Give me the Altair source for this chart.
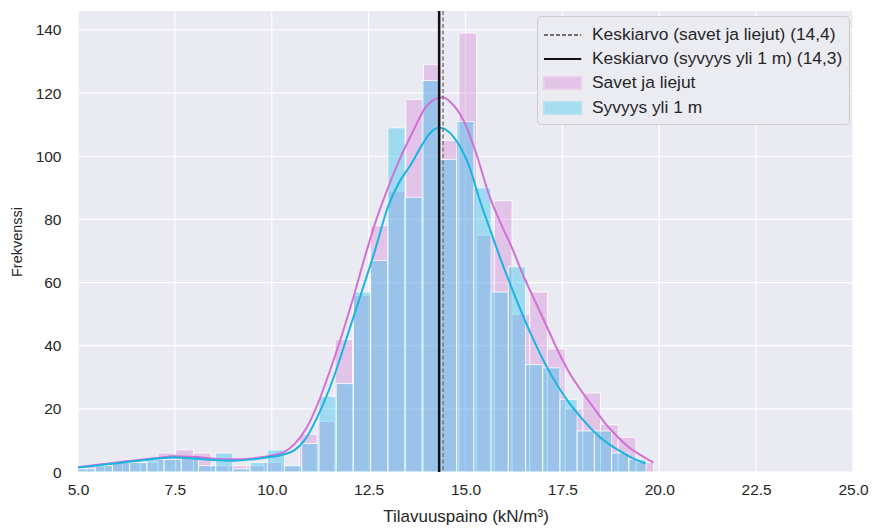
import altair as alt
import pandas as pd

# ---------------- data ----------------
# Histogram "Syvyys yli 1 m" (blue)
BLUE_START = 5.0
BLUE_WIDTH = 0.4442
BLUE_COUNTS = [1, 2, 3, 3, 4, 4, 5, 2, 6, 1, 3, 7, 2, 9, 24, 28, 57, 67, 109, 87,
               124, 99, 111, 90, 57, 65, 34, 33, 23, 13, 13, 6, 4]
# Histogram "Savet ja liejut" (pink)
PINK_START = 4.78
PINK_WIDTH = 0.4568
PINK_COUNTS = [1, 2, 3, 4, 3, 6, 7, 6, 2, 2, 2, 3, 2, 12, 16, 42, 56, 78, 89, 118,
               129, 105, 139, 75, 86, 50, 57, 39, 20, 25, 15, 11, 3]

# KDE curves
PINK_KDE_X = [5.0, 5.5, 6.0, 6.5, 7.0, 7.5, 8.0, 8.5, 9.0, 9.5, 10.0, 10.3, 10.6, 10.9,
              11.2, 11.5, 11.8, 12.1, 12.4, 12.7, 13.0, 13.3, 13.65, 14.0, 14.4, 14.7,
              15.0, 15.3, 15.6, 15.9, 16.2, 16.5, 16.8, 17.1, 17.4, 17.7, 18.0, 18.3,
              18.6, 18.9, 19.2, 19.5, 19.85]
PINK_KDE_Y = [1.5, 2.3, 3.0, 3.7, 4.4, 5.0, 4.8, 4.2, 4.0, 4.3, 5.2, 6.2, 9, 14, 22, 32,
              43, 55, 68, 80, 90, 99, 108, 116, 118.7, 116, 110, 100, 88, 79, 71, 62,
              54, 46, 38, 31, 25.5, 20.5, 15.5, 11.5, 8, 5.5, 3]
BLUE_KDE_X = [5.0, 5.5, 6.0, 6.5, 7.0, 7.5, 8.0, 8.5, 9.0, 9.5, 10.0, 10.3, 10.6, 10.9,
              11.2, 11.6, 12.0, 12.32, 12.66, 13.0, 13.3, 13.57, 13.9, 14.1, 14.33,
              14.7, 15.12, 15.37, 15.6, 15.89, 16.3, 16.75, 17.2, 17.61, 18.0, 18.47,
              19.0, 19.3, 19.65]
BLUE_KDE_Y = [1.4, 2.1, 2.8, 3.5, 4.2, 4.6, 4.3, 3.8, 3.6, 4.0, 4.8, 5.5, 7, 11, 18, 30,
              45, 57, 70, 84, 92, 97, 104, 107.5, 109, 106, 96, 86, 78, 68, 55, 42, 31,
              23, 17, 11, 6.5, 4.5, 2.7]

# Means
PINK_MEAN = 14.42
BLUE_MEAN = 14.32

LABELS = ["Keskiarvo (savet ja liejut) (14,4)", "Keskiarvo (syvyys yli 1 m) (14,3)",
          "Savet ja liejut", "Syvyys yli 1 m"]

X_TICKS = [5.0, 7.5, 10.0, 12.5, 15.0, 17.5, 20.0, 22.5, 25.0]
Y_TICKS = [0, 20, 40, 60, 80, 100, 120, 140]

# ---------------- styling ----------------
FONT = "Liberation Sans"
BG = "#EAEAF2"
TXT = "#262626"
PINK = "#D68BD9"
BLUE = "#31C2ED"
PINK_LINE = "#D171D4"
BLUE_LINE = "#1AB4E3"

X_TITLE = "Tilavuuspaino (kN/m³)"
Y_TITLE = "Frekvenssi"


def hist_frame(start, width, counts):
    return pd.DataFrame({
        "x0": [start + i * width for i in range(len(counts))],
        "x1": [start + (i + 1) * width for i in range(len(counts))],
        "count": counts,
    })


pink_df = hist_frame(PINK_START, PINK_WIDTH, PINK_COUNTS)
blue_df = hist_frame(BLUE_START, BLUE_WIDTH, BLUE_COUNTS)
pink_kde = pd.DataFrame({"x": PINK_KDE_X, "y": PINK_KDE_Y})
blue_kde = pd.DataFrame({"x": BLUE_KDE_X, "y": BLUE_KDE_Y})
legend_df = pd.DataFrame({"lab": LABELS})
xgrid_df = pd.DataFrame({"x": X_TICKS})
ygrid_df = pd.DataFrame({"y": Y_TICKS})

xscale = alt.Scale(domain=[5, 25], nice=False, zero=False)
yscale = alt.Scale(domain=[0, 146], nice=False)

xaxis = alt.Axis(values=X_TICKS, format=".1f", labelPadding=10, titlePadding=11,
                 labelFlush=False, labelFontSize=15.5, titleFontSize=17)
yaxis = alt.Axis(values=Y_TICKS, labelPadding=17, titlePadding=11,
                 labelFontSize=15.5, titleFontSize=14.5)


def X(field):
    return alt.X(field, scale=xscale, axis=xaxis, title=X_TITLE)


def Y(field):
    return alt.Y(field, scale=yscale, axis=yaxis, title=Y_TITLE)


# plot-area background and white grid (seaborn "darkgrid")
background = alt.Chart(legend_df.head(1)).mark_rect(color=BG).encode(
    x=alt.value(0), x2=alt.value("width"), y=alt.value(0), y2=alt.value("height")
)
xgrid = alt.Chart(xgrid_df).mark_rule(color="white", strokeWidth=1.2).encode(x=X("x:Q"))
ygrid = alt.Chart(ygrid_df).mark_rule(color="white", strokeWidth=1.2).encode(y=Y("y:Q"))

pink_bars = alt.Chart(pink_df).mark_rect(
    fill=PINK, fillOpacity=0.4, stroke="white", strokeWidth=1, strokeOpacity=0.8, clip=True
).encode(x=X("x0:Q"), x2="x1:Q", y=Y("count:Q"), y2=alt.datum(0))

blue_bars = alt.Chart(blue_df).mark_rect(
    fill=BLUE, fillOpacity=0.4, stroke="white", strokeWidth=1, strokeOpacity=0.8, clip=True
).encode(x=X("x0:Q"), x2="x1:Q", y=Y("count:Q"), y2=alt.datum(0))

pink_line = alt.Chart(pink_kde).mark_line(
    color=PINK_LINE, strokeWidth=2, interpolate="monotone", clip=True
).encode(x=X("x:Q"), y=Y("y:Q"))

blue_line = alt.Chart(blue_kde).mark_line(
    color=BLUE_LINE, strokeWidth=2, interpolate="monotone", clip=True
).encode(x=X("x:Q"), y=Y("y:Q"))

pink_mean = alt.Chart(pd.DataFrame({"x": [PINK_MEAN]})).mark_rule(
    color="#6F6F6F", strokeWidth=1.4, strokeDash=[4, 2.5]
).encode(x=X("x:Q"))

blue_mean = alt.Chart(pd.DataFrame({"x": [BLUE_MEAN]})).mark_rule(
    color="#111111", strokeWidth=2.5
).encode(x=X("x:Q"))

LINE_PATH = "M-1,0L2.1,0"
RECT_PATH = "M-1,-0.5L2.1,-0.5L2.1,0.5L-1,0.5Z"

leg = alt.Legend(
    title=None, orient="none", legendX=459, legendY=5,
    symbolSize=576, symbolStrokeWidth=2, symbolOpacity=1,
    labelFont=FONT, labelFontSize=17.4, labelColor=TXT, labelOffset=23, labelLimit=400,
    fillColor="#EBEBF2", strokeColor="#CCCCCC", cornerRadius=4, padding=6, rowPadding=2,
)

legend_layer = alt.Chart(legend_df).mark_point(filled=True, opacity=0, strokeWidth=2).encode(
    fill=alt.Fill("lab:N", legend=leg, scale=alt.Scale(
        domain=LABELS, range=["transparent", "transparent", "#E3C4E8", "#A6DCF0"])),
    stroke=alt.Stroke("lab:N", legend=leg, scale=alt.Scale(
        domain=LABELS, range=["#6F6F6F", "#111111", "#E9CFEC", "#B6E2F2"])),
    shape=alt.Shape("lab:N", legend=leg, scale=alt.Scale(
        domain=LABELS, range=[LINE_PATH, LINE_PATH, RECT_PATH, RECT_PATH])),
    strokeDash=alt.StrokeDash("lab:N", legend=leg, scale=alt.Scale(
        domain=LABELS, range=[[4, 2], [1, 0], [1, 0], [1, 0]])),
)

chart = alt.layer(
    background, xgrid, ygrid, pink_bars, blue_bars, pink_line, blue_line,
    pink_mean, blue_mean, legend_layer
).properties(
    width=775, height=461,
    autosize=alt.AutoSizeParams(type="none"),
    padding={"left": 78, "top": 11, "right": 21, "bottom": 57},
    background="white",
).configure_view(
    strokeWidth=0
).configure_axis(
    grid=False, domain=False, ticks=False, tickSize=0,
    labelFont=FONT, labelColor=TXT,
    titleFont=FONT, titleFontWeight="normal", titleColor=TXT,
)

chart.save("out.html", embed_options={"renderer": "svg", "actions": False})
